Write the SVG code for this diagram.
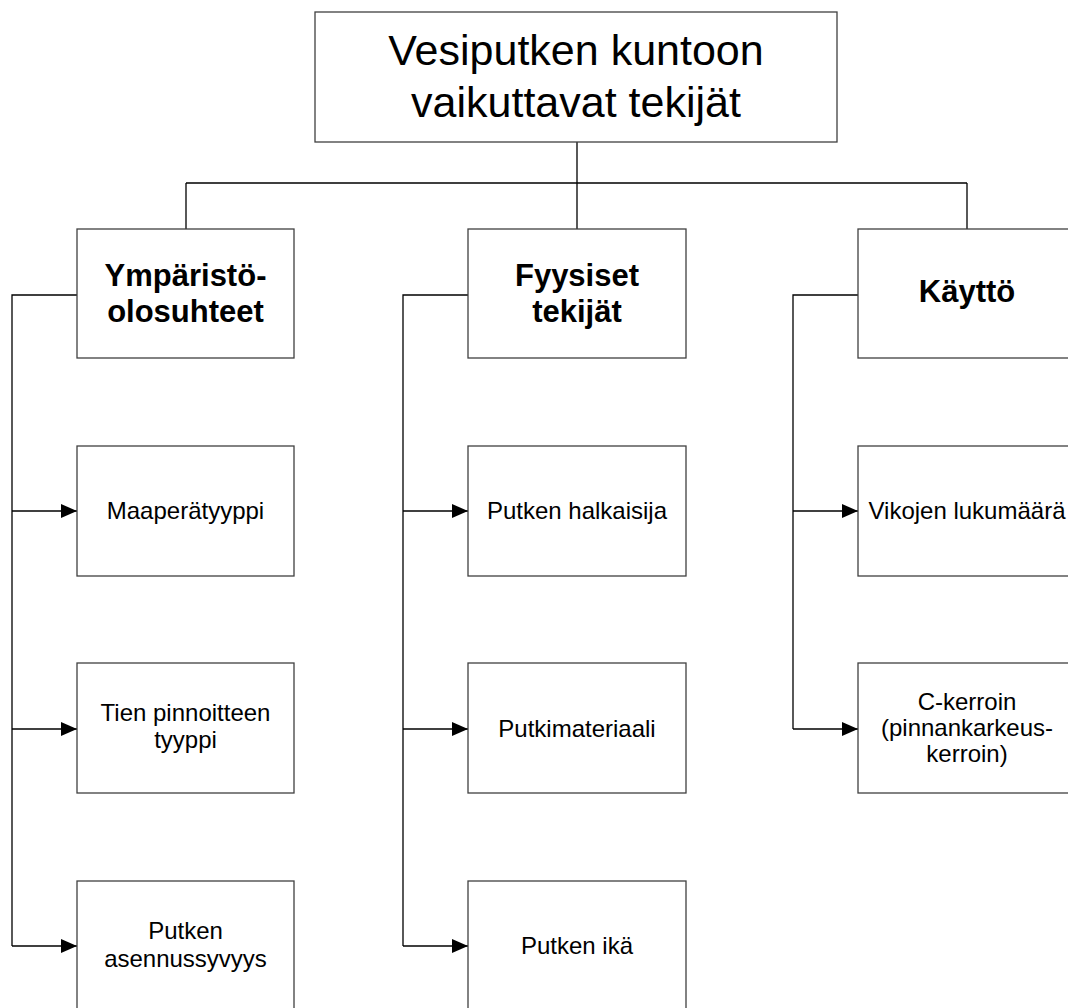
<svg xmlns="http://www.w3.org/2000/svg" width="1068" height="1008" viewBox="0 0 1068 1008">
  <style>
    .box { fill: #ffffff; stroke: #404040; stroke-width: 1.3; }
    .wire { fill: none; stroke: #000000; stroke-width: 1.3; }
    text { font-family: "Liberation Sans", Arial, sans-serif; fill: #000000; text-anchor: middle; }
    .title { font-size: 43px; }
    .head { font-size: 31px; font-weight: bold; }
    .item { font-size: 24px; }
  </style>
  <defs>
    <marker id="arrow" viewBox="0 0 16 14" refX="16" refY="7" markerWidth="16" markerHeight="14" markerUnits="userSpaceOnUse" orient="auto">
      <path d="M0,0 L16,7 L0,14 Z" fill="#000000"/>
    </marker>
  </defs>
  <rect width="1068" height="1008" fill="#ffffff"/>

  <!-- connectors -->
  <g id="connectors">
    <path class="wire" d="M577,142 V183 M186,183 H967 M186,183 V229 M577,183 V229 M967,183 V229"/>
    <!-- column 1 branch -->
    <path class="wire" d="M77,295 H12 V946"/>
    <path class="wire" d="M12,511 H77" marker-end="url(#arrow)"/>
    <path class="wire" d="M12,729 H77" marker-end="url(#arrow)"/>
    <path class="wire" d="M12,946 H77" marker-end="url(#arrow)"/>
    <!-- column 2 branch -->
    <path class="wire" d="M468,295 H403 V946"/>
    <path class="wire" d="M403,511 H468" marker-end="url(#arrow)"/>
    <path class="wire" d="M403,729 H468" marker-end="url(#arrow)"/>
    <path class="wire" d="M403,946 H468" marker-end="url(#arrow)"/>
    <!-- column 3 branch -->
    <path class="wire" d="M858,295 H793 V729"/>
    <path class="wire" d="M793,511 H858" marker-end="url(#arrow)"/>
    <path class="wire" d="M793,729 H858" marker-end="url(#arrow)"/>
  </g>

  <!-- root -->
  <g id="root">
    <rect class="box" x="315" y="12" width="522" height="130"/>
    <text class="title" x="576" y="65">Vesiputken kuntoon</text>
    <text class="title" x="576" y="117">vaikuttavat tekijät</text>
  </g>

  <!-- column 1 -->
  <g id="ymparisto">
    <rect class="box" x="77" y="229" width="217" height="129"/>
    <text class="head" x="185.5" y="286">Ympäristö-</text>
    <text class="head" x="185.5" y="322">olosuhteet</text>
  </g>
  <g id="maaperatyyppi">
    <rect class="box" x="77" y="446" width="217" height="130"/>
    <text class="item" x="185.5" y="519">Maaperätyyppi</text>
  </g>
  <g id="tien-pinnoite">
    <rect class="box" x="77" y="663" width="217" height="130"/>
    <text class="item" x="185.5" y="721">Tien pinnoitteen</text>
    <text class="item" x="185.5" y="748">tyyppi</text>
  </g>
  <g id="asennussyvyys">
    <rect class="box" x="77" y="881" width="217" height="130"/>
    <text class="item" x="185.5" y="939">Putken</text>
    <text class="item" x="185.5" y="967">asennussyvyys</text>
  </g>

  <!-- column 2 -->
  <g id="fyysiset">
    <rect class="box" x="468" y="229" width="218" height="129"/>
    <text class="head" x="577" y="286">Fyysiset</text>
    <text class="head" x="577" y="322">tekijät</text>
  </g>
  <g id="halkaisija">
    <rect class="box" x="468" y="446" width="218" height="130"/>
    <text class="item" x="577" y="519">Putken halkaisija</text>
  </g>
  <g id="putkimateriaali">
    <rect class="box" x="468" y="663" width="218" height="130"/>
    <text class="item" x="577" y="737">Putkimateriaali</text>
  </g>
  <g id="putken-ika">
    <rect class="box" x="468" y="881" width="218" height="130"/>
    <text class="item" x="577" y="954">Putken ikä</text>
  </g>

  <!-- column 3 -->
  <g id="kaytto">
    <rect class="box" x="858" y="229" width="218" height="129"/>
    <text class="head" x="967" y="302">Käyttö</text>
  </g>
  <g id="vikojen-lukumaara">
    <rect class="box" x="858" y="446" width="218" height="130"/>
    <text class="item" x="967" y="519">Vikojen lukumäärä</text>
  </g>
  <g id="c-kerroin">
    <rect class="box" x="858" y="663" width="218" height="130"/>
    <text class="item" x="967" y="710">C-kerroin</text>
    <text class="item" x="967" y="736">(pinnankarkeus-</text>
    <text class="item" x="967" y="762">kerroin)</text>
  </g>
</svg>
